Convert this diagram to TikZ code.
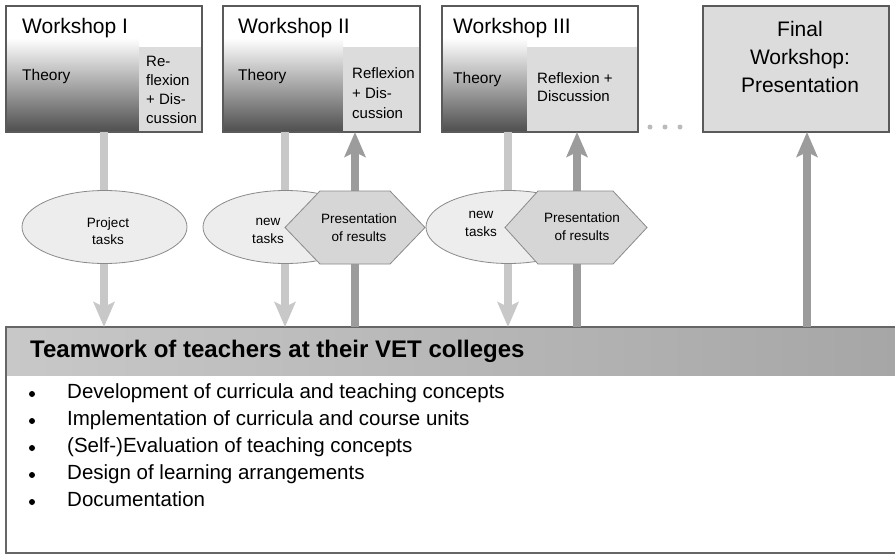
\documentclass[tikz,border=0pt]{standalone}
\usepackage{fontspec}
\setmainfont{Liberation Sans}
\usetikzlibrary{arrows.meta,shapes.geometric}
\definecolor{boxline}{HTML}{5A5A5A}
\definecolor{refl}{HTML}{DCDCDC}
\definecolor{theorydark}{HTML}{4E4E4E}
\definecolor{lightarr}{HTML}{C8C8C8}
\definecolor{darkarr}{HTML}{9C9C9C}
\definecolor{ellfill}{HTML}{EDEDED}
\definecolor{hexfill}{HTML}{D6D6D6}
\definecolor{shapeline}{HTML}{8A8A8A}
\definecolor{hdrL}{HTML}{C8C8C8}
\definecolor{hdrR}{HTML}{A6A6A6}
\definecolor{teamline}{HTML}{666666}
\definecolor{dotcol}{HTML}{BBBBBB}
\newcommand\myfs[1]{\fontsize{#1}{#1}\selectfont}
\begin{document}
\begin{tikzpicture}[x=1pt,y=-1pt,
  wsbox/.style={draw=boxline, line width=1.1pt, inner sep=0pt, outer sep=0pt, anchor=north west, minimum height=126pt},
  wstitle/.style={font=\myfs{21}, anchor=base west, inner sep=0pt},
  theory/.style={font=\myfs{15.5}, anchor=base west, inner sep=0pt},
  refltext/.style={font=\myfs{15}, anchor=base west, inner sep=0pt},
  finaltext/.style={font=\myfs{21}, anchor=base, inner sep=0pt},
  smalltext/.style={font=\myfs{13.5}, anchor=base, inner sep=0pt},
  bullettext/.style={font=\myfs{20.5}, anchor=base west, inner sep=0pt},
  lightarrow/.style={draw=lightarr, line width=8pt, -{Stealth[width=21pt,length=25pt,inset=5pt]}},
  darkarrow/.style={draw=darkarr, line width=8pt, -{Stealth[width=21pt,length=25pt,inset=5pt]}},
  ell/.style={ellipse, draw=shapeline, fill=ellfill, line width=0.8pt, minimum width=165pt, minimum height=73pt, inner sep=0pt},
  hex/.style={draw=shapeline, fill=hexfill, line width=0.8pt}
]
\useasboundingbox (0,0) rectangle (895,555);
\fill[white] (0,0) rectangle (895,555);

% ---------- Teamwork box ----------
\fill[white] (6,327) rectangle (900,553);
\shade[left color=hdrL, right color=hdrR] (6,327) rectangle (900,375);
\node[draw=teamline, line width=1.2pt, anchor=north west, minimum width=894pt, minimum height=226pt, inner sep=0pt, outer sep=0pt] (team) at (6,327) {};
\node[font=\bfseries\myfs{24}, anchor=base west, inner sep=0pt] (teamtitle) at (30,357) {Teamwork of teachers at their VET colleges};
\foreach \txt [count=\i] in {Development of curricula and teaching concepts,Implementation of curricula and course units,(Self-)Evaluation of teaching concepts,Design of learning arrangements,Documentation} {
  \fill ({32},{367+27*\i}) circle (3pt);
  \node[bullettext] (b\i) at (67,{371+27*\i}) {\txt};
}

% ---------- Workshop boxes ----------
% Workshop I
\fill[white] (6,6) rectangle (202,132);
\shade[top color=white, bottom color=theorydark] (6,38) rectangle (139,132);
\fill[refl] (139,47) rectangle (202,132);
\node[wsbox, minimum width=196pt] (w1) at (6,6) {};
\node[wstitle] (w1t) at (22,33) {Workshop I};
\node[theory] (w1th) at (22,80) {Theory};
\foreach \txt [count=\i] in {Re-,flexion,+ Dis-,cussion}
  \node[refltext] (w1r\i) at (146,{47+19*\i}) {\txt};

% Workshop II
\fill[white] (223,6) rectangle (420,132);
\shade[top color=white, bottom color=theorydark] (223,38) rectangle (343,132);
\fill[refl] (343,47) rectangle (420,132);
\node[wsbox, minimum width=197pt] (w2) at (223,6) {};
\node[wstitle] (w2t) at (238,33) {Workshop II};
\node[theory] (w2th) at (238,80) {Theory};
\foreach \txt [count=\i] in {Reflexion,+ Dis-,cussion}
  \node[refltext] (w2r\i) at (352,{58+20*\i}) {\txt};

% Workshop III
\fill[white] (442,6) rectangle (638,132);
\shade[top color=white, bottom color=theorydark] (442,38) rectangle (527,132);
\fill[refl] (527,47) rectangle (638,132);
\node[wsbox, minimum width=196pt] (w3) at (442,6) {};
\node[wstitle] (w3t) at (453,33) {Workshop III};
\node[theory] (w3th) at (453,83) {Theory};
\foreach \txt [count=\i] in {Reflexion +,Discussion}
  \node[refltext] (w3r\i) at (537,{65+18*\i}) {\txt};

% dots
\fill[dotcol] (650,127) circle (2.5pt);
\fill[dotcol] (665,127) circle (2.5pt);
\fill[dotcol] (680,127) circle (2.5pt);

% Final workshop
\node[wsbox, fill=refl, minimum width=186pt] (wf) at (703,6) {};
\foreach \txt [count=\i] in {Final,Workshop:,Presentation}
  \node[finaltext] (wft\i) at (800,{8+28*\i}) {\txt};

% ---------- Arrows ----------
\coordinate (xa) at (104,0);
\coordinate (xb) at (285,0);
\coordinate (xc) at (355,0);
\coordinate (xd) at (508,0);
\coordinate (xe) at (577,0);
\coordinate (xf) at (807,0);
\draw[lightarrow] (w1.south -| xa) -- (team.north -| xa);
\draw[lightarrow] (w2.south -| xb) -- (team.north -| xb);
\draw[lightarrow] (w3.south -| xd) -- (team.north -| xd);
\draw[darkarrow] (team.north -| xc) -- (w2.south -| xc);
\draw[darkarrow] (team.north -| xe) -- (w3.south -| xe);
\draw[darkarrow] (team.north -| xf) -- (wf.south -| xf);

% ---------- Ellipses and hexagons ----------
\node[ell] (e1) at (104.5,227) {};
\node[smalltext] (e1a) at (108,227) {Project};
\node[smalltext] (e1b) at (108,244) {tasks};

\node[ell] (e2) at (285.5,227) {};
\node[smalltext] (e2a) at (268,225) {new};
\node[smalltext] (e2b) at (268,243) {tasks};

\draw[hex] (285,227.5) -- (320,191) -- (390,191) -- (425,227.5) -- (390,264) -- (320,264) -- cycle;
\node[smalltext] (h1a) at (359,223) {Presentation};
\node[smalltext] (h1b) at (359,241) {of results};

\node[ell] (e3) at (508.5,227) {};
\node[smalltext] (e3a) at (481,218) {new};
\node[smalltext] (e3b) at (481,236) {tasks};

\draw[hex] (505,227.5) -- (538,191) -- (613,191) -- (647,227.5) -- (613,264) -- (538,264) -- cycle;
\node[smalltext] (h2a) at (582,222) {Presentation};
\node[smalltext] (h2b) at (582,240) {of results};
\end{tikzpicture}
\end{document}
